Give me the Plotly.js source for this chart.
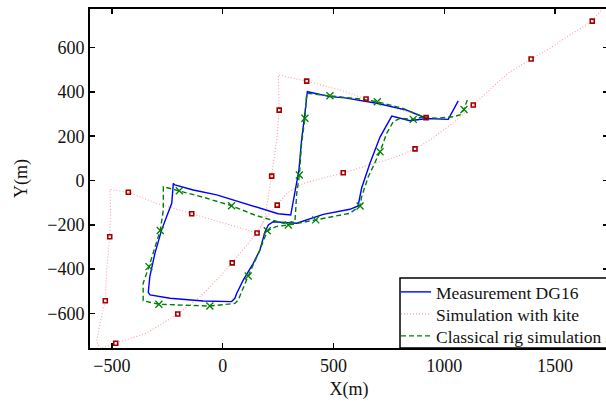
<!DOCTYPE html>
<html>
<head>
<meta charset="utf-8">
<script src="https://cdn.plot.ly/plotly-3.0.1.min.js"></script>
<style>html,body{margin:0;padding:0;overflow:hidden;background:#fff;}</style>
</head>
<body>
<div id="chart" style="width:612px;height:403px;"></div>
<script>
// Measurement DG16 (blue solid)
const measX = [1063,1018,922,830,695,552,484,382,371,356,344,326,307,250,124,-27,-133,-216,-223,-230,-253,-276,-306,-329,-336,-328,-238,-88,40,55,63,93,138,168,191,206,228,334,454,574,611,627,665,710,763,845,922];
const measY = [360,276,280,318,349,373,379,401,304,183,47,-58,-156,-150,-111,-65,-43,-20,-13,-103,-163,-224,-329,-434,-505,-517,-532,-544,-547,-532,-510,-449,-374,-314,-231,-201,-186,-193,-153,-130,-115,-34,79,196,291,270,280];

// Simulation with kite (pink dotted line) and its square markers
const kiteX = [1730,1703,1668,1553,1477,1392,1297,1252,1131,1056,936,868,785,635,544,364,289,246,198,150,93,43,-27,-103,-203,-343,-483,-554,-569,-554,-530,-524,-510,-506,-509,-426,-298,-140,33,155,168,191,206,221,244,255,251,379,529,647,918];
const kiteY = [800,762,720,649,597,549,491,453,341,273,183,143,107,62,35,-13,-58,-111,-163,-242,-314,-372,-449,-526,-603,-689,-735,-759,-728,-644,-543,-404,-254,-133,-40,-53,-103,-150,-201,-237,-224,-164,-73,20,183,318,477,449,409,368,284];
const kiteMarkX = [1668,1392,1131,868,544,246,43,-203,-483,-530,-510,-426,-140,155,221,255,379,647,918];
const kiteMarkY = [720,549,341,143,35,-111,-372,-603,-735,-543,-254,-53,-150,-237,20,318,449,368,284];

// Classical rig simulation (green dashed) and its x markers
const rigX = [1104,1089,1071,1041,966,905,814,698,619,484,379,371,356,346,334,326,273,150,40,-80,-196,-268,-268,-282,-333,-359,-359,-288,-58,55,70,115,168,201,240,296,420,574,620,627,657,710,740,770,800,860,905];
const rigY = [364,321,296,288,281,287,326,356,368,383,394,281,168,25,-58,-186,-193,-158,-114,-78,-46,-28,-133,-226,-389,-464,-543,-559,-567,-555,-540,-431,-314,-227,-208,-201,-178,-148,-115,-73,17,130,213,266,281,276,287];
const rigMarkX = [1089,860,698,484,371,346,296,40,-196,-282,-333,-288,-58,115,201,420,620,710];
const rigMarkY = [321,276,356,383,281,25,-201,-114,-46,-226,-389,-559,-567,-431,-227,-178,-115,130];

const seriesNames = ['Measurement DG16','Simulation with kite','Classical rig simulation'];
const xTicks = [-500,0,500,1000,1500];
const yTicks = [-600,-400,-200,0,200,400,600];

const FONT = 'Liberation Serif, Times New Roman, serif';
const TXT = '#111';

const traces = [
  {x: kiteX, y: kiteY, name: seriesNames[1], mode: 'lines', legend: 'legend2',
   line: {color: '#ff9c9c', width: 1.1, dash: '1px,2px'}},
  {x: measX, y: measY, name: seriesNames[0], mode: 'lines', legend: 'legend',
   line: {color: '#0000ff', width: 1.4}},
  {x: rigX, y: rigY, name: seriesNames[2], mode: 'lines', legend: 'legend3',
   line: {color: '#008000', width: 1.4, dash: '5px,3px'}},
  {x: kiteMarkX, y: kiteMarkY, mode: 'markers', showlegend: false,
   marker: {symbol: 'square-open', size: 4, color: '#a00000', line: {width: 1.6, color: '#a00000'}}},
  {x: rigMarkX, y: rigMarkY, mode: 'markers', showlegend: false,
   marker: {symbol: 'x-thin-open', size: 7, color: '#008000', line: {width: 1.3, color: '#008000'}}}
];

const plotL = 90, plotR = 608, plotT = 9, plotB = 348;
const pw = plotR - plotL, ph = plotB - plotT;
const legLeft = 396;
const rowsY = [292, 314, 336];

function legendAt(py) {
  return {
    x: (legLeft - plotL) / pw, xanchor: 'left',
    y: (plotB - py) / ph, yanchor: 'middle',
    bgcolor: 'rgba(0,0,0,0)', borderwidth: 0,
    font: {family: FONT, size: 17.5, color: TXT},
    tracegroupgap: 0, itemclick: false
  };
}

const layout = {
  width: 612, height: 403,
  margin: {l: plotL, r: 612 - plotR, t: plotT, b: 403 - plotB, pad: 0, autoexpand: false},
  paper_bgcolor: '#fff', plot_bgcolor: '#fff',
  font: {family: FONT, size: 18, color: TXT},
  showlegend: true,
  xaxis: {
    range: [-599, 1739], tickvals: xTicks, ticktext: xTicks.map(v => v < 0 ? '\u2212' + Math.abs(v) : String(v)),
    ticks: 'inside', ticklen: 5, tickwidth: 1.5, tickcolor: '#000',
    showline: true, linecolor: '#000', linewidth: 2, mirror: 'ticks',
    showgrid: false, zeroline: false,
    title: {text: 'X(m)', font: {family: FONT, size: 18, color: TXT}, standoff: 8},
    tickfont: {family: FONT, size: 18, color: TXT}
  },
  yaxis: {
    range: [-756.5, 774.6], tickvals: yTicks, ticktext: yTicks.map(v => v < 0 ? '\u2212' + Math.abs(v) : String(v)),
    ticks: 'inside', ticklen: 5, tickwidth: 1.5, tickcolor: '#000',
    showline: true, linecolor: '#000', linewidth: 2, mirror: 'ticks',
    showgrid: false, zeroline: false,
    title: {text: 'Y(m)', font: {family: FONT, size: 18, color: TXT}, standoff: 15},
    tickfont: {family: FONT, size: 18, color: TXT}
  },
  legend: legendAt(rowsY[0]),
  legend2: legendAt(rowsY[1]),
  legend3: legendAt(rowsY[2]),
  shapes: [{
    type: 'rect', xref: 'paper', yref: 'paper', layer: 'above',
    x0: (legLeft + 4 - plotL) / pw, x1: 1.05, y0: 0, y1: (plotB - 278) / ph,
    fillcolor: '#fff', line: {color: '#000', width: 1.5}
  }]
};

Plotly.newPlot('chart', traces, layout, {displayModeBar: false, staticPlot: true});
</script>
</body>
</html>
